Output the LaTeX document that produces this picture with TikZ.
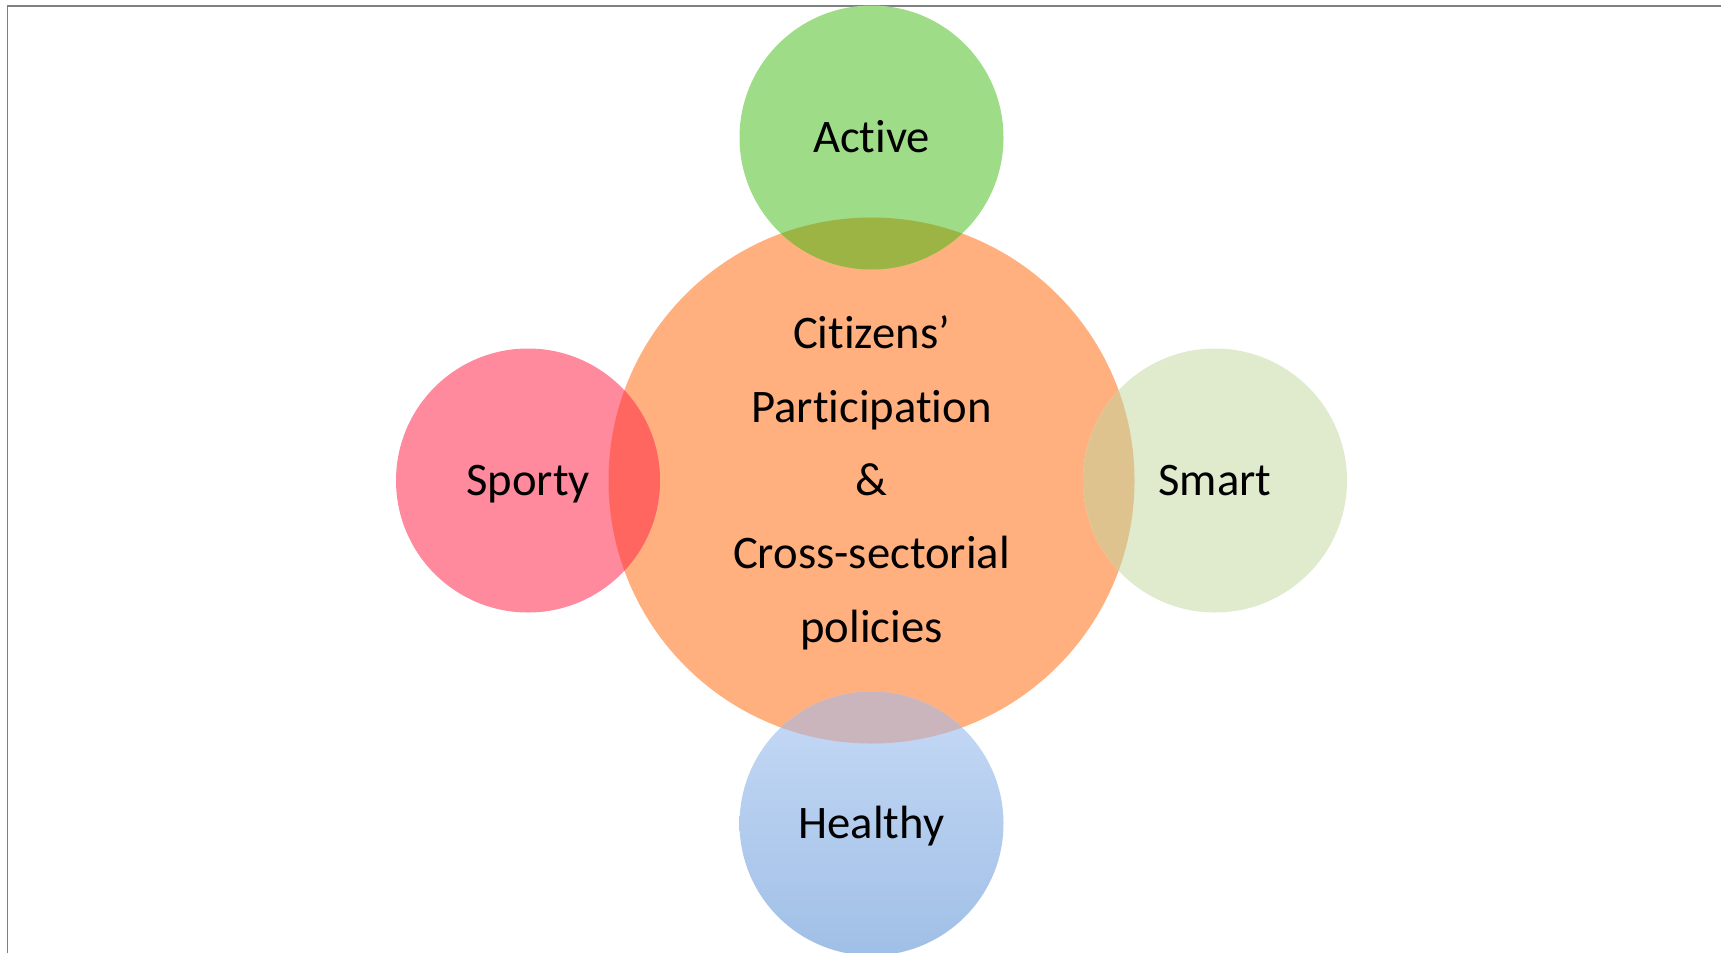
\documentclass[tikz,border=0pt]{standalone}
\usepackage{fontspec}
\setmainfont{Carlito}[RawFeature={-liga;-clig;-dlig;-calt;-rlig}]
% zero kern that keeps "t" and "i" as separate glyphs
\newcommand{\tibreak}{\kern0pt\relax}
\definecolor{coreC}{HTML}{FFB07E}
\definecolor{activeC}{HTML}{9EDC88}
\definecolor{activeX}{HTML}{9CB444}
\definecolor{smartC}{HTML}{E0EACC}
\definecolor{smartX}{HTML}{DFC38F}
\definecolor{sportyC}{HTML}{FF8A9D}
\definecolor{sportyX}{HTML}{FF6660}
\definecolor{healthyTop}{HTML}{C6DAF6}
\definecolor{healthyBot}{HTML}{A0BFE6}
\definecolor{healthyX}{HTML}{C9B5BB}
\definecolor{frameC}{HTML}{808080}
\begin{document}
\begin{tikzpicture}[x=0.75pt,y=-0.75pt,
  bigtext/.style={font=\fontsize{35}{55}\selectfont, text=black},
  disc/.style={circle, inner sep=0pt, minimum size=198pt, bigtext,
    text height=22.5pt, text depth=0pt},
  coredisc/.style={circle, inner sep=0pt, minimum size=394.5pt},
  coretext/.style={align=center, inner sep=0pt, bigtext},
  frameline/.style={draw=frameC, line width=1.3pt}]
\useasboundingbox (0,0) rectangle (1721,953);
\clip (0,0) rectangle (1721,953);

% page frame
\coordinate (fTL) at (7.5,6);
\coordinate (fTR) at (1730,6);
\coordinate (fBL) at (7.5,960);
\draw[frameline] (fTR) -- (fTL) -- (fBL);

% central circle
\node[coredisc, fill=coreC] (core) at (871.5,480.5) {};

% surrounding circles
\node[disc, fill=activeC] (act) at (871.5,137.5) {Act\tibreak ive};
\node[disc, fill=sportyC] (spo) at (528,480.5) {Sporty};
\node[disc, fill=smartC] (sma) at (1215,480.5) {Smart};
\node[disc, top color=healthyTop, bottom color=healthyBot] (hea) at (871.5,823.5) {Healthy};

% overlaps with the central circle
\begin{scope}
  \clip (core.center) circle[radius=197.25pt];
  \fill[activeX] (act.center) circle[radius=99pt];
  \fill[sportyX] (spo.center) circle[radius=99pt];
  \fill[smartX] (sma.center) circle[radius=99pt];
  \fill[healthyX] (hea.center) circle[radius=99pt];
\end{scope}

% central label
\node[coretext] (ctext) at ([yshift=-1.7pt]core.center)
  {Citizens’\\Participat\tibreak ion\\\&\\Cross-sectorial\\policies};
\end{tikzpicture}
\end{document}
